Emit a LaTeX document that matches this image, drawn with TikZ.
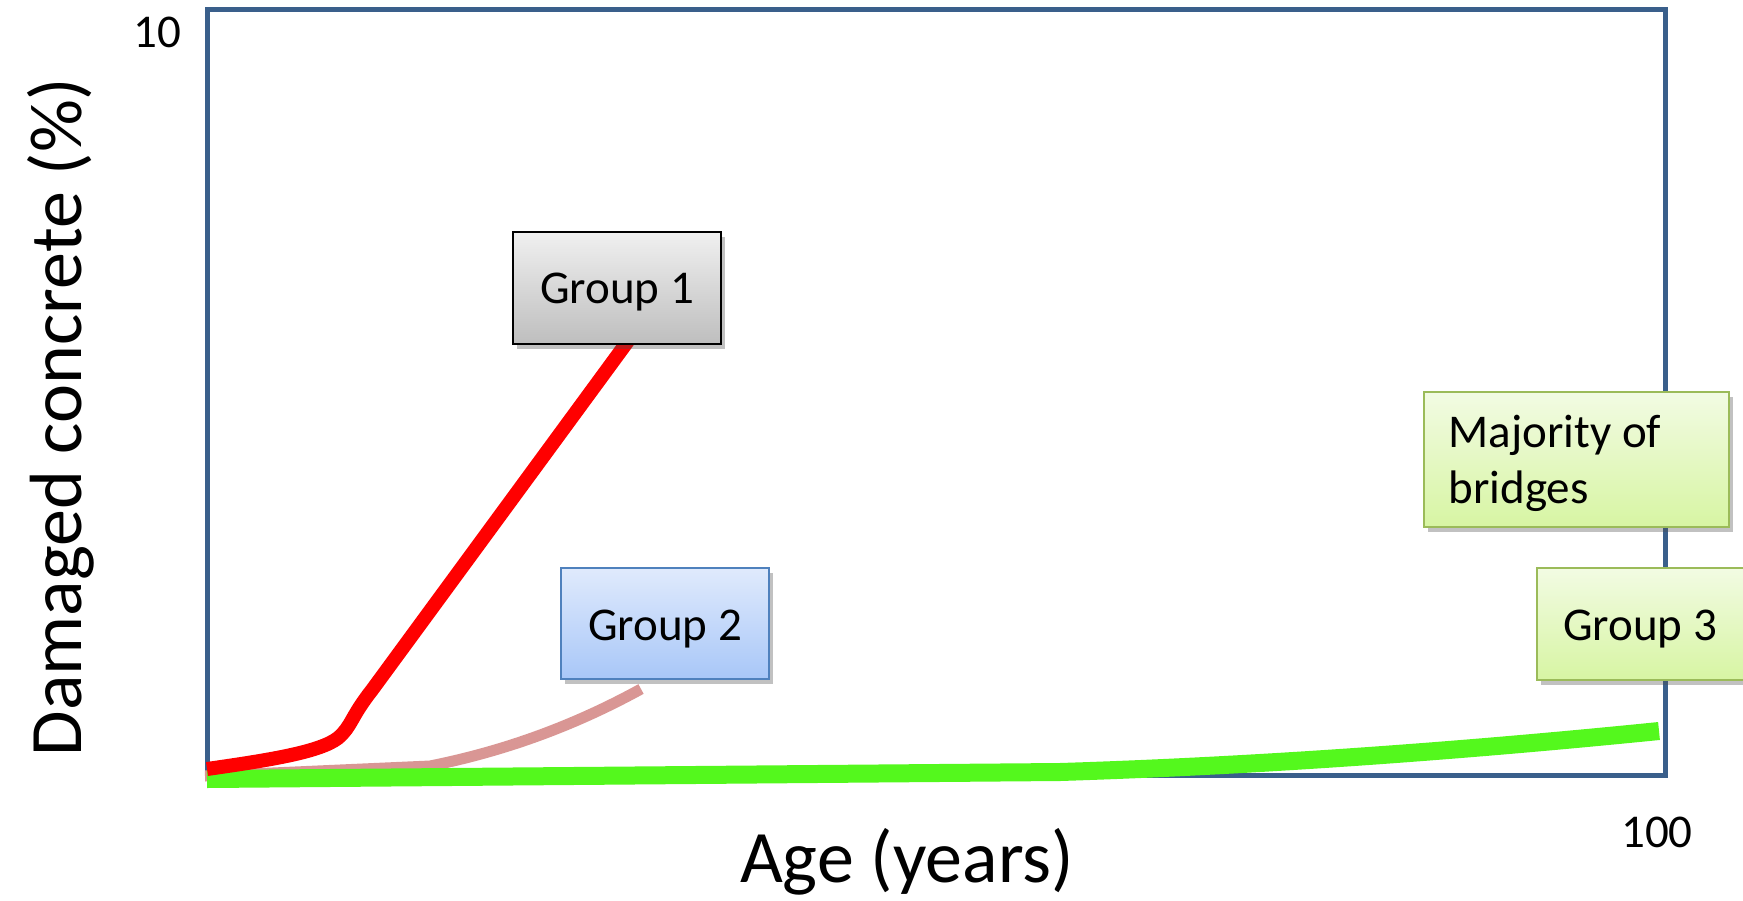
\documentclass[tikz,border=0pt]{standalone}
\usepackage{fontspec}
\setmainfont{Carlito}
\usetikzlibrary{shadows}
\definecolor{framecol}{RGB}{58,95,139}
\definecolor{redline}{RGB}{255,0,0}
\definecolor{pinkline}{RGB}{217,150,148}
\definecolor{greenline}{RGB}{84,248,29}
\definecolor{g1top}{RGB}{240,240,240}
\definecolor{g1bot}{RGB}{190,190,190}
\definecolor{g2top}{RGB}{224,234,252}
\definecolor{g2bot}{RGB}{168,199,248}
\definecolor{g2edge}{RGB}{79,129,189}
\definecolor{g3top}{RGB}{242,251,227}
\definecolor{g3bot}{RGB}{215,245,163}
\definecolor{g3edge}{RGB}{155,187,89}
\tikzset{
  small/.style={font=\fontsize{47}{56}\selectfont},
  big/.style={font=\fontsize{74}{88}\selectfont},
  boxshadow/.style={drop shadow={shadow xshift=4pt,shadow yshift=-5pt,opacity=0.35,fill=black!70}},
  grayboxstyle/.style={draw=black,line width=1.6pt,top color=g1top,bottom color=g1bot,boxshadow},
  blueboxstyle/.style={draw=g2edge,line width=2pt,top color=g2top,bottom color=g2bot,boxshadow},
  greenboxstyle/.style={draw=g3edge,line width=2pt,top color=g3top,bottom color=g3bot,boxshadow},
  curve/.style={line cap=butt,line join=round}
}
\begin{document}
\begin{tikzpicture}[x=1pt,y=-1pt]
\useasboundingbox (0,0) rectangle (1743,900);
% frame
\draw[framecol,line width=5pt] (207,9) rectangle (1665,775);
% curves
\draw[curve,pinkline,line width=11pt] (205,776) -- (430,766) .. controls (500,752) and (570,728) .. (641,689);
\draw[curve,greenline,line width=18pt] (207,779) -- (1060,772) .. controls (1250,766) and (1450,752) .. (1659,731);
\draw[curve,redline,line width=14pt] (207,769) .. controls (270,760) and (320,752) .. (338,738) .. controls (352,726) and (350,718) .. (372,690) -- (628,341);
% boxes
\path[grayboxstyle] (513,232) rectangle (721,344);
\node[small,anchor=base] (g1) at (617,303) {Group 1};
\path[blueboxstyle] (561,568) rectangle (769,679);
\node[small,anchor=base] (g2) at (665,640) {Group 2};
\path[greenboxstyle] (1424,392) rectangle (1729,527);
\node[small,anchor=base west,align=left] (maj) at (1445,503) {Majority of\\bridges};
\path[greenboxstyle] (1537,568) rectangle (1760,680);
\node[small,anchor=base] (g3) at (1640,640) {Group 3};
% axis labels
\node[small,anchor=base] (ymax) at (157,47) {10};
\node[small,anchor=base] (xmax) at (1657,847) {100};
\node[big,anchor=base] (xlab) at (907,882) {Age (years)};
\node[big,anchor=base,rotate=90] (ylab) at (81,417) {Damaged concrete (\%)};
\end{tikzpicture}
\end{document}
